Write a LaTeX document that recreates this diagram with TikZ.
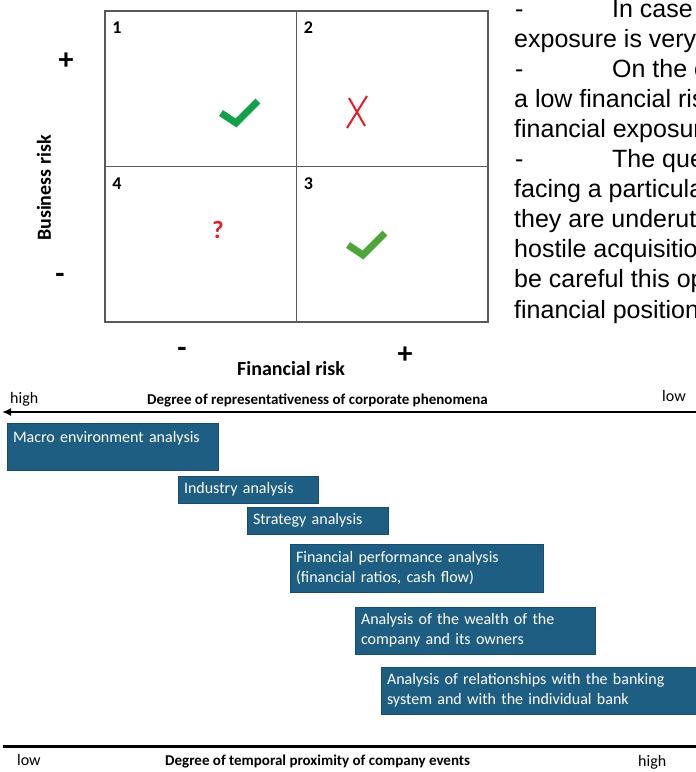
\documentclass[tikz,border=0pt]{standalone}
\usepackage{fontspec}
\setmainfont{Carlito}
\newfontfamily\notefont{Liberation Sans}
\usetikzlibrary{arrows.meta}
\definecolor{stageblue}{HTML}{1F5E83}
\definecolor{stageedge}{HTML}{184C6C}
\definecolor{framegray}{HTML}{595959}
\definecolor{okgreen}{HTML}{12A14A}
\definecolor{okgreenlt}{HTML}{4CA63A}
\definecolor{nored}{HTML}{E31B23}
\tikzset{%
  quadrant/.style  = {shape=rectangle, draw=framegray, line width=1.3pt,%
                      anchor=north west, outer sep=0pt,%
                      minimum width=191.5pt, minimum height=155.5pt},%
  quadnum/.style   = {font=\bfseries\fontsize{18}{21}\selectfont},%
  sign/.style      = {font=\bfseries\fontsize{30}{36}\selectfont},%
  risk/.style      = {font=\bfseries\fontsize{20}{24}\selectfont},%
  checkmark/.style = {line width=7pt, line join=miter},%
  crossline/.style = {nored, line width=2pt},%
  stage/.style     = {shape=rectangle, draw=stageedge, fill=stageblue, text=white,%
                      anchor=north west, outer sep=0pt, align=left,%
                      inner xsep=6pt, inner ysep=2pt, font=\fontsize{16}{20}\selectfont},%
  endlabel/.style  = {anchor=base west, inner sep=0pt, font=\fontsize{16}{19}\selectfont},%
  axistitle/.style = {anchor=base west, inner sep=0pt, font=\bfseries\fontsize{15}{18}\selectfont},%
  note/.style      = {anchor=base west, inner sep=0pt, font=\notefont\fontsize{25}{30}\selectfont}%
}
\begin{document}
\begin{tikzpicture}[x=1pt, y=-1pt]%
	\clip (0,0) rectangle (696,772);
	% risk matrix
	\node[quadrant] (q1) at (105,11) {};
	\node[quadrant] (q2) at (296.5,11) {};
	\node[quadrant] (q4) at (105,166.5) {};
	\node[quadrant] (q3) at (296.5,166.5) {};
	\node[quadnum] (n1) at ([shift={(12,17)}]q1.north west) {1};
	\node[quadnum] (n2) at ([shift={(12,17)}]q2.north west) {2};
	\node[quadnum] (n4) at ([shift={(12,17)}]q4.north west) {4};
	\node[quadnum] (n3) at ([shift={(12,17)}]q3.north west) {3};
	\draw[checkmark, okgreen] (221,113) -- (236,123) -- (258,101);
	\draw[crossline] (349,98) -- (365,126) (367,96) -- (347,128);
	\node[font=\bfseries\fontsize{25}{30}\selectfont, text=nored] (qmark) at (218,230) {?};
	\draw[checkmark, okgreenlt] (348,245) -- (363,255) -- (385,233);
	\node[sign] (bizHi) at (66,61) {+};
	\node[sign] (bizLo) at (60,278) {-};
	\node[sign] (finLo) at (182,352) {-};
	\node[sign] (finHi) at (405,355) {+};
	\node[risk, rotate=90] (bizRisk) at (44,188) {Business risk};
	\node[risk] (finRisk) at (291,369) {Financial risk};
	% text beside the matrix
	\foreach \nx/\ntext [count=\k] in {612/In case, 514/exposure is very, 612/On the o,%
		514/a low financial risk, 514/financial exposure, 612/The ques,%
		514/facing a particular, 514/they are underuti, 514/hostile acquisition,%
		514/be careful this ope, 514/financial position}
		\node[note] (note\k) at (\nx,{17.5+30.05*(\k-1)}) {\ntext};
	\foreach \k in {1,3,6}
		\node[note] (dash\k) at (515,{17.5+30.05*(\k-1)}) {-};
	% axes
	\coordinate (repR) at (700,412);
	\coordinate (repL) at (2,412);
	\draw[line width=2.5pt, -{Latex[length=9pt, width=8pt]}] (repR) -- (repL);
	\coordinate (timeL) at (3,746.5);
	\coordinate (timeR) at (700,746.5);
	\draw[line width=3pt] (timeL) -- (timeR);
	\node[endlabel] (hiRep) at (10,403) {high};
	\node[axistitle] (repTitle) at (147,404.5) {Degree of representativeness of corporate phenomena};
	\node[endlabel] (loRep) at (662,401) {low};
	\node[endlabel] (loTime) at (17,765) {low};
	\node[axistitle] (timeTitle) at (165,765) {Degree of temporal proximity of company events};
	\node[endlabel] (hiTime) at (638,766) {high};
	% analysis stages
	\node[stage, text width=199pt, minimum width=211pt, minimum height=47pt] (macro) at (7,423)
		{Macro environment analysis\\ \mbox{}};
	\node[stage, text width=128pt, minimum width=140pt, minimum height=27pt] (industry) at (178,476)
		{Industry analysis};
	\node[stage, text width=129pt, minimum width=141pt, minimum height=27pt] (strategy) at (247,507)
		{Strategy analysis};
	\node[stage, text width=241pt, minimum width=253pt, minimum height=48pt] (finperf) at (290,544)
		{Financial performance analysis\\(financial ratios, cash flow)};
	\node[stage, text width=228pt, minimum width=240pt, minimum height=47pt] (wealth) at (355,607)
		{Analysis of the wealth of the\\company and its owners};
	\node[stage, text width=318pt, minimum width=330pt, minimum height=47pt] (banking) at (381,667)
		{Analysis of relationships with the banking\\system and with the individual bank};
\end{tikzpicture}
\end{document}
